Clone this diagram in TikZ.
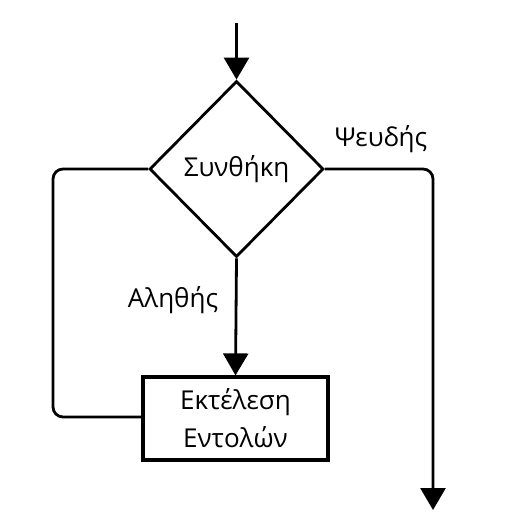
\documentclass[tikz,border=0pt]{standalone}
\usepackage{fontspec}
\setmainfont{Open Sans}
\usetikzlibrary{shapes.geometric,arrows.meta}
\begin{document}
\begin{tikzpicture}[x=1pt,y=-1pt,
  line/.style={line width=2.8pt, draw=black},
  arr/.style={line, -{Triangle[length=22pt,width=25pt]}},
  lbl/.style={font=\fontsize{26}{30}\selectfont, inner sep=0pt},
  proc/.style={draw, line width=3.2pt, minimum width=185pt, minimum height=83pt, align=center, font=\fontsize{26}{38}\selectfont, inner sep=0pt},
  cond/.style={draw, line width=2.8pt, diamond, minimum width=174pt, minimum height=176pt, inner sep=0pt, font=\fontsize{26}{30}\selectfont}]
\useasboundingbox (0,0) rectangle (506,526);
\coordinate (start) at (236.5,23);
\node[cond] (c) at (236.5,169) {Συνθήκη};
\node[proc] (p) at (235.5,418.5) {Εκτέλεση\\Εντολών};
\coordinate (end) at (433,510);
\node[lbl] (t) at (173,300) {Αληθής};
\node[lbl] (f) at (381,139) {Ψευδής};
\draw[arr] (start) -- (c.north);
\draw[arr] (c.south) -- (p.north);
\draw[line, rounded corners=10pt] (c.west) -- (53,169) -- (53,417) -- (p.west |- 0,417);
\draw[arr, rounded corners=10pt] (c.east) -- (433,169) -- (end);
\end{tikzpicture}
\end{document}
